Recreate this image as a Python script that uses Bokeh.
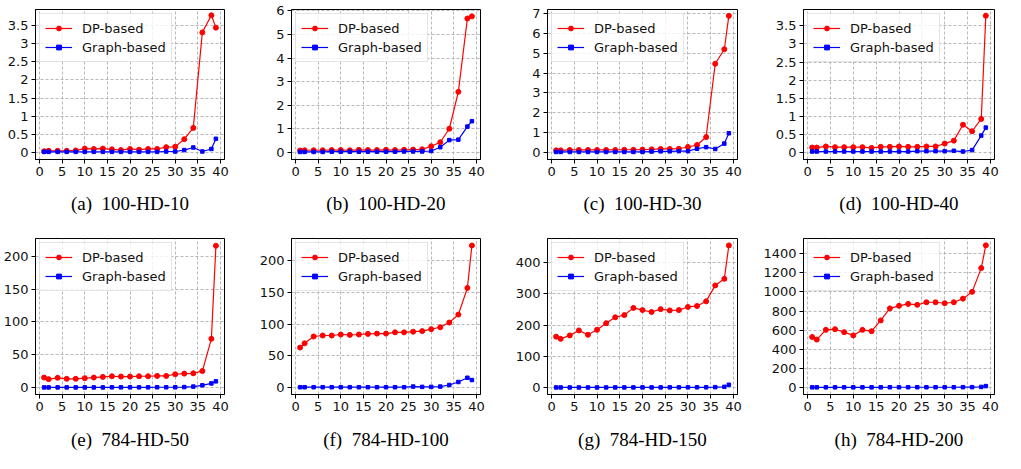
from bokeh.plotting import figure
from bokeh.layouts import gridplot
from bokeh.models import Range1d, FixedTicker, BasicTickFormatter
from bokeh.embed import file_html
from bokeh.resources import INLINE

# ---------------- data ----------------
x_vals = [1, 2, 4, 6, 8, 10, 12, 14, 16, 18, 20, 22, 24, 26, 28, 30, 32, 34, 36, 38, 39]
x_ticks = [0, 5, 10, 15, 20, 25, 30, 35, 40]

captions = ["(a)\u2002100-HD-10", "(b)\u2002100-HD-20", "(c)\u2002100-HD-30", "(d)\u2002100-HD-40",
            "(e)\u2002784-HD-50", "(f)\u2002784-HD-100", "(g)\u2002784-HD-150", "(h)\u2002784-HD-200"]

dp_a = [0.035, 0.05, 0.05, 0.05, 0.06, 0.11, 0.10, 0.11, 0.09, 0.07, 0.10, 0.08, 0.10, 0.10, 0.15, 0.16, 0.37, 0.68, 3.31, 3.78, 3.44]
gr_a = [0.02, 0.02, 0.02, 0.02, 0.02, 0.02, 0.02, 0.02, 0.02, 0.02, 0.02, 0.02, 0.02, 0.02, 0.03, 0.03, 0.07, 0.14, 0.03, 0.10, 0.38]

dp_b = [0.09, 0.10, 0.10, 0.10, 0.11, 0.11, 0.10, 0.12, 0.11, 0.11, 0.12, 0.11, 0.12, 0.13, 0.14, 0.27, 0.44, 1.01, 2.57, 5.67, 5.76]
gr_b = [0.03, 0.03, 0.03, 0.03, 0.04, 0.04, 0.04, 0.04, 0.04, 0.04, 0.04, 0.04, 0.05, 0.05, 0.05, 0.07, 0.23, 0.53, 0.55, 1.10, 1.33]

dp_c = [0.11, 0.11, 0.13, 0.13, 0.13, 0.13, 0.13, 0.13, 0.14, 0.14, 0.15, 0.16, 0.18, 0.18, 0.19, 0.28, 0.38, 0.78, 4.47, 5.20, 6.88]
gr_c = [0.03, 0.03, 0.03, 0.03, 0.03, 0.03, 0.03, 0.03, 0.03, 0.03, 0.03, 0.05, 0.06, 0.06, 0.07, 0.07, 0.19, 0.27, 0.18, 0.45, 0.97]

dp_d = [0.14, 0.14, 0.17, 0.15, 0.15, 0.15, 0.15, 0.13, 0.16, 0.16, 0.17, 0.16, 0.16, 0.17, 0.17, 0.25, 0.33, 0.77, 0.59, 0.93, 3.78]
gr_d = [0.03, 0.03, 0.03, 0.03, 0.03, 0.03, 0.03, 0.03, 0.03, 0.03, 0.03, 0.03, 0.04, 0.04, 0.04, 0.04, 0.05, 0.03, 0.07, 0.47, 0.69]

dp_e = [15.3, 12.9, 14.9, 13.4, 13.4, 14.4, 15.3, 16.3, 17.3, 16.8, 16.8, 17.3, 17.3, 17.8, 17.8, 20.3, 21.3, 21.8, 25.2, 74.3, 216.0]
gr_e = [0.3, 0.3, 0.3, 0.3, 0.3, 0.3, 0.3, 0.3, 0.4, 0.4, 0.4, 0.4, 0.4, 0.5, 0.5, 0.5, 0.8, 1.5, 3.5, 6.4, 9.5]

dp_f = [63.0, 69.7, 80.5, 82.0, 82.0, 83.6, 83.0, 83.6, 84.6, 85.0, 85.0, 87.0, 87.0, 88.0, 89.0, 92.0, 95.0, 102.5, 115.0, 157.0, 224.0]
gr_f = [0.5, 0.5, 0.5, 0.5, 0.5, 0.5, 0.5, 0.5, 0.5, 0.5, 0.5, 0.5, 0.5, 1.5, 1.0, 1.0, 1.5, 4.0, 8.7, 15.4, 11.8]

dp_g = [163, 156, 167, 183, 169, 185, 206, 225, 232, 255, 248, 242, 251, 247, 248, 258, 261, 276, 327, 348, 455]
gr_g = [0.5, 0.5, 0.5, 0.5, 0.5, 0.5, 0.6, 0.6, 0.6, 0.6, 0.7, 0.7, 0.7, 0.8, 0.8, 0.9, 1.0, 1.0, 1.5, 2.5, 9.0]

dp_h = [528, 501, 603, 610, 579, 545, 603, 589, 702, 828, 855, 875, 865, 892, 892, 882, 892, 930, 1001, 1250, 1488]
gr_h = [1, 1, 1, 1, 1, 1, 1, 1, 1, 2, 2, 2, 2, 2, 2, 2, 2, 3, 3, 5, 14]

dp_series = [dp_a, dp_b, dp_c, dp_d, dp_e, dp_f, dp_g, dp_h]
gr_series = [gr_a, gr_b, gr_c, gr_d, gr_e, gr_f, gr_g, gr_h]

y_ticks = [
    [0.0, 0.5, 1.0, 1.5, 2.0, 2.5, 3.0, 3.5],
    [0, 1, 2, 3, 4, 5, 6],
    [0, 1, 2, 3, 4, 5, 6, 7],
    [0.0, 0.5, 1.0, 1.5, 2.0, 2.5, 3.0, 3.5],
    [0, 50, 100, 150, 200],
    [0, 50, 100, 150, 200],
    [0, 100, 200, 300, 400],
    [0, 200, 400, 600, 800, 1000, 1200, 1400],
]
y_decimals = [1, 0, 0, 1, 0, 0, 0, 0]
y_limits = [(-0.19, 3.94), (-0.29, 6.05), (-0.35, 7.2), (-0.19, 3.95),
            (-10.5, 227), (-11, 235), (-22, 477), (-74, 1560)]

# ---------------- layout (styling only) ----------------
W, H = 251, 226
borders_lr = [(31, 24), (32, 18), (36, 14), (41, 8), (35, 27), (40, 22), (45, 16), (50, 10)]

SANS = "DejaVu Sans"
SERIF = "Liberation Serif"

figs = []
for i in range(8):
    top_row = i < 4
    bl, br = borders_lr[i]
    p = figure(width=W, height=H, output_backend="svg", toolbar_location=None,
               x_range=Range1d(-0.9, 40.9), y_range=Range1d(*y_limits[i]),
               min_border_left=bl, min_border_right=br,
               min_border_top=9 if top_row else 12,
               min_border_bottom=67 if top_row else 54)
    p.outline_line_color = "black"
    p.outline_line_width = 1
    p.outline_line_alpha = 1
    p.background_fill_color = "white"
    p.border_fill_color = "white"

    p.xaxis.ticker = FixedTicker(ticks=x_ticks)
    p.yaxis.ticker = FixedTicker(ticks=y_ticks[i])
    if y_decimals[i] > 0:
        p.yaxis.formatter = BasicTickFormatter(precision=y_decimals[i])
    for ax in (p.xaxis, p.yaxis):
        ax.axis_line_color = "black"
        ax.major_tick_line_color = "black"
        ax.major_tick_out = 4
        ax.major_tick_in = 0
        ax.minor_tick_line_color = None
        ax.major_label_text_font = SANS
        ax.major_label_text_font_size = "13px"
        ax.major_label_text_color = "#111111"
        ax.major_label_standoff = 3
    p.xaxis.axis_label = captions[i]
    p.xaxis.axis_label_text_font = SERIF
    p.xaxis.axis_label_text_font_style = "normal"
    p.xaxis.axis_label_text_font_size = "19px"
    p.xaxis.axis_label_text_color = "black"
    p.xaxis.axis_label_standoff = 14 if top_row else 15

    for g in (p.xgrid, p.ygrid):
        g.grid_line_color = "#b0b0b0"
        g.grid_line_dash = "3 2"
        g.grid_line_alpha = 0.9
        g.grid_line_width = 1

    p.line(x_vals, dp_series[i], color="#ff0000", line_width=1.2, legend_label="DP-based")
    p.scatter(x_vals, dp_series[i], marker="circle", size=5, color="#ff0000", legend_label="DP-based")
    p.line(x_vals, gr_series[i], color="#0000ff", line_width=1.2, legend_label="Graph-based")
    p.scatter(x_vals, gr_series[i], marker="square", size=3.5, color="#0000ff", legend_label="Graph-based")

    lg = p.legend[0]
    lg.location = "top_left"
    lg.margin = 4
    lg.padding = 5
    lg.spacing = 1
    lg.glyph_width = 27
    lg.glyph_height = 12
    lg.label_height = 18
    lg.label_standoff = 10
    lg.label_text_font = SANS
    lg.label_text_font_size = "13px"
    lg.label_text_color = "#111111"
    lg.border_line_color = "#cccccc"
    lg.border_line_width = 1
    lg.background_fill_color = "white"
    lg.background_fill_alpha = 0.8
    figs.append(p)

grid = gridplot(figs, ncols=4, toolbar_location=None)

open("out.html", "w").write(file_html(grid, INLINE))
